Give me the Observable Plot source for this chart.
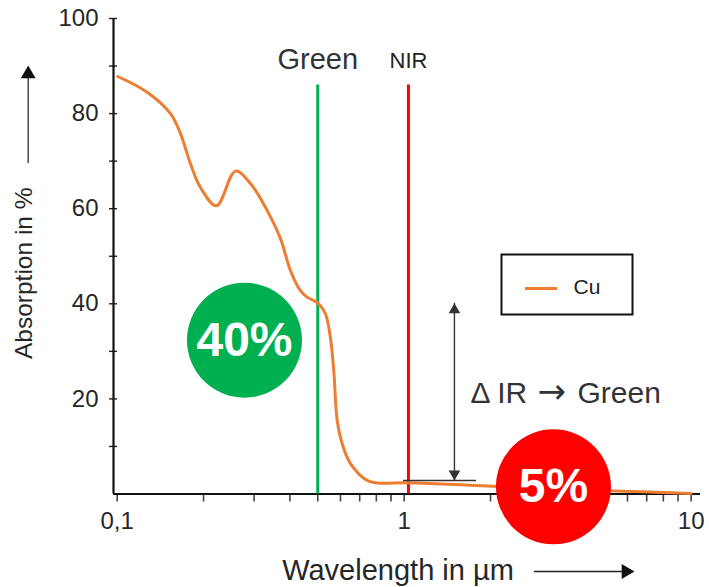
<!DOCTYPE html>
<html>
<head>
<meta charset="utf-8">
<script src="https://cdn.jsdelivr.net/npm/d3@7"></script>
<script src="https://cdn.jsdelivr.net/npm/@observablehq/plot@0.6"></script>
<style>
  html, body { margin: 0; padding: 0; background: #fff; }
  #chart svg { display: block; }
</style>
</head>
<body>
<div id="chart"></div>
<script>
// ---- data ----
const wavelength   = [0.1005, 0.1272, 0.1534, 0.1662, 0.18, 0.195, 0.2218, 0.2584, 0.2914, 0.3332, 0.3707, 0.4016, 0.4342, 0.459, 0.504, 0.5318, 0.553, 0.5684, 0.5843, 0.6081, 0.65, 0.7527, 1.038, 1.78, 3.31, 7.2, 10];
const absorptionCu = [87.8, 84.5, 80.0, 75.8, 69.5, 64.5, 60.6, 67.9, 65.3, 59.6, 53.7, 47.0, 42.8, 41.4, 40.0, 37.9, 33.0, 26.0, 15.5, 10.6, 6.4, 2.7, 2.35, 1.8, 1.05, 0.4, 0.1];

const xDomain = [0.0971, 10.78];
const yDomain = [0, 100];
const xTickValues = [0.1, 1, 10];
const xTickLabels = ["0,1", "1", "10"];
const xMinorTicks = [0.1, 0.2, 0.3, 0.4, 0.5, 0.6, 0.7, 0.8, 0.9, 1, 2, 3, 4, 5, 6, 7, 8, 9, 10];
const yTickValues = [20, 40, 60, 80, 100];
const yMinorTicks = [10, 20, 30, 40, 50, 60, 70, 80, 90, 100];

const bandNames = ["Green", "NIR"];
const bandWavelengths = [0.5, 1.035];
const bandTop = 86;

const badgeLabels = ["40%", "5%"];
const badgeX = [0.2777, 3.313];
const badgeY = [32.35, 1.5];

const deltaLabelParts = ["Δ IR", "→", "Green"];
const deltaLabelX = 1.702;
const deltaLabelY = 21.25;
const deltaArrowX = 1.497;
const deltaArrowY = [2.84, 40.1];
const deltaBaseX = [0.9945, 1.787];

const seriesName = "Cu";
const xLabel = "Wavelength in µm";
const yLabel = "Absorption in %";

// ---- styles ----
const orange = "#ED7D31";
const bandColors = ["#00B050", "#FF0000"];
const badgeColors = ["#00B050", "#FF0000"];
const ink = "#262626";

const W = 709, H = 587;
const mL = 113, mR = 9, mT = 18, mB = 93.5;
const plotW = W - mL - mR, plotH = H - mT - mB;

const bands = bandNames.map((name, i) => ({name, x: bandWavelengths[i], color: bandColors[i]}));
const badges = badgeLabels.map((label, i) => ({label, x: badgeX[i], y: badgeY[i], color: badgeColors[i]}));
const curve = wavelength.map((x, i) => ({x, y: absorptionCu[i]}));

// triangle symbol helper: tip offset from centroid for radius r
const tipOff = r => 2 * Math.sqrt((Math.PI * r * r) / (Math.sqrt(3) * 3));

const chart = Plot.plot({
  width: W,
  height: H,
  marginLeft: mL,
  marginRight: mR,
  marginTop: mT,
  marginBottom: mB,
  style: {fontFamily: "'Liberation Sans', Arial, sans-serif", background: "#fff", color: ink, overflow: "visible"},
  x: {type: "log", domain: xDomain},
  y: {domain: yDomain},
  marks: [
    // x ticks (below axis)
    Plot.tickX(xMinorTicks, {x: d => d, insetTop: plotH, insetBottom: -8, stroke: "#444", strokeWidth: 1.6}),
    // y ticks (crossing axis)
    Plot.tickY(yMinorTicks, {y: d => d, insetLeft: -4, insetRight: plotW - 4, stroke: "#222", strokeWidth: 1.4}),
    // axis lines
    Plot.ruleY([yDomain[0]], {stroke: "#111", strokeWidth: 2.2}),
    Plot.ruleX([xDomain[0]], {stroke: "#111", strokeWidth: 2.2}),
    // tick labels
    Plot.axisX({ticks: xTickValues, tickFormat: d => xTickLabels[xTickValues.indexOf(d)], tickSize: 0, tickPadding: 18, fontSize: 24, label: null, fill: ink}),
    Plot.axisY({ticks: yTickValues, tickSize: 0, tickPadding: 15, fontSize: 24, label: null, fill: ink}),
    // axis titles with arrows
    Plot.text([yLabel], {frameAnchor: "left", textAnchor: "middle", lineAnchor: "middle", dx: -89, dy: 17, rotate: -90, fontSize: 24.5, fill: ink}),
    Plot.ruleX([xDomain[0]], {dx: -85.3, insetTop: 54, insetBottom: plotH - (163 - mT), stroke: "#555", strokeWidth: 1.6}),
    Plot.dot([0], {frameAnchor: "top-left", dx: -85.3, dy: 65 - mT + tipOff(5.5), r: 5.5, symbol: "triangle", fill: "#111", stroke: "none"}),
    Plot.text([xLabel], {frameAnchor: "bottom", textAnchor: "middle", lineAnchor: "middle", dx: -9, dy: 77, fontSize: 29, fill: ink}),
    Plot.ruleY([yDomain[0]], {dy: 77.5, insetLeft: 534 - mL, insetRight: W - mR - 624, stroke: "#222", strokeWidth: 1.6}),
    Plot.dot([0], {frameAnchor: "bottom-left", dx: 634 - mL - tipOff(5.5), dy: 77.5, r: 5.5, symbol: "triangle", rotate: 90, fill: "#111", stroke: "none"}),
    // band lines
    Plot.ruleX(bands, {x: "x", y1: 0, y2: bandTop, stroke: "color", strokeWidth: 3}),
    Plot.text(bands.slice(0, 1), {x: "x", y: bandTop, text: "name", dy: -25, fontSize: 29, fill: "#333"}),
    Plot.text(bands.slice(1), {x: "x", y: bandTop, text: "name", dy: -24, fontSize: 22, fill: "#222"}),
    // curve
    Plot.line(curve, {x: "x", y: "y", stroke: orange, strokeWidth: 3, curve: "catmull-rom"}),
    // delta arrow
    Plot.ruleX([deltaArrowX], {x: d => d, y1: deltaArrowY[0], y2: deltaArrowY[1], stroke: "#333", strokeWidth: 1.4}),
    Plot.dot([deltaArrowX], {x: d => d, y: deltaArrowY[1], dy: tipOff(4.3), r: 4.3, symbol: "triangle", fill: "#333", stroke: "none"}),
    Plot.dot([deltaArrowX], {x: d => d, y: deltaArrowY[0], dy: -tipOff(4.3), r: 4.3, symbol: "triangle", rotate: 180, fill: "#333", stroke: "none"}),
    Plot.ruleY([deltaArrowY[0]], {y: d => d, x1: deltaBaseX[0], x2: deltaBaseX[1], stroke: "#333", strokeWidth: 1.4}),
    Plot.text([deltaLabelParts[0]], {x: deltaLabelX, y: deltaLabelY, textAnchor: "start", fontSize: 30, fill: "#333"}),
    Plot.text([deltaLabelParts[1]], {x: deltaLabelX, y: deltaLabelY, dx: 67, dy: -1, textAnchor: "start", fontSize: 34, fontFamily: "'DejaVu Sans', sans-serif", fill: "#333"}),
    Plot.text([deltaLabelParts[2]], {x: deltaLabelX, y: deltaLabelY, dx: 107, textAnchor: "start", fontSize: 30, fill: "#333"}),
    // legend
    Plot.frame({insetLeft: 501 - mL, insetRight: W - mR - 632, insetTop: 254 - mT, insetBottom: (H - mB) - 314, stroke: "#111", strokeWidth: 2, fill: "#fff"}),
    Plot.ruleY([yDomain[0]], {dy: 288 - (H - mB), insetLeft: 525 - mL, insetRight: W - mR - 557, stroke: orange, strokeWidth: 3}),
    Plot.text([seriesName], {frameAnchor: "bottom-left", textAnchor: "start", lineAnchor: "middle", dx: 573 - mL, dy: 287 - (H - mB), fontSize: 21, fill: "#222"}),
    // badges
    Plot.dot(badges, {x: "x", y: "y", r: 57.5, fill: "color", stroke: "none"}),
    Plot.text(badges, {x: "x", y: "y", text: "label", fill: "#fff", fontSize: 48, fontWeight: "bold"})
  ]
});
document.getElementById("chart").appendChild(chart);
</script>
</body>
</html>
